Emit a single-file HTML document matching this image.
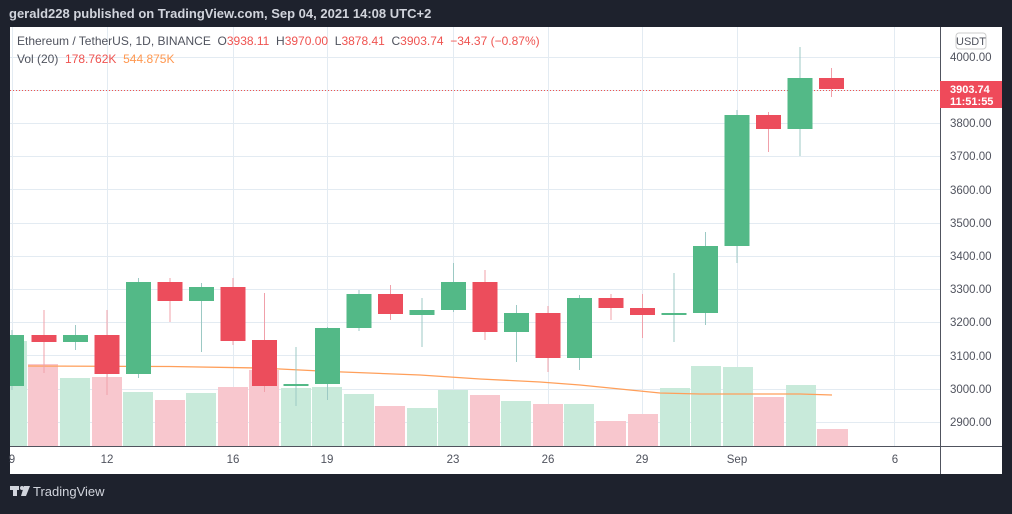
<!DOCTYPE html>
<html><head><meta charset="utf-8"><style>
body{margin:0;width:1012px;height:509px;background:#1e222d;overflow:hidden;font-family:"Liberation Sans",sans-serif}
.pre{white-space:pre}
</style></head><body>
<svg width="1012" height="509" xmlns="http://www.w3.org/2000/svg" font-family="Liberation Sans, sans-serif">
<rect x="0" y="0" width="1012" height="509" fill="#1e222d"/>
<text x="9" y="18" fill="#d1d4dc" font-size="13" font-weight="bold">gerald228 published on TradingView.com, Sep 04, 2021 14:08 UTC+2</text>
<rect x="10" y="27" width="992" height="447" fill="#fff"/>
<g stroke="#e3ebf2" stroke-width="1">
<line x1="10" x2="940" y1="57.5" y2="57.5"/><line x1="10" x2="940" y1="90.5" y2="90.5"/><line x1="10" x2="940" y1="123.5" y2="123.5"/><line x1="10" x2="940" y1="156.5" y2="156.5"/><line x1="10" x2="940" y1="189.5" y2="189.5"/><line x1="10" x2="940" y1="223.5" y2="223.5"/><line x1="10" x2="940" y1="256.5" y2="256.5"/><line x1="10" x2="940" y1="289.5" y2="289.5"/><line x1="10" x2="940" y1="322.5" y2="322.5"/><line x1="10" x2="940" y1="355.5" y2="355.5"/><line x1="10" x2="940" y1="389.5" y2="389.5"/><line x1="10" x2="940" y1="422.5" y2="422.5"/>
<line y1="27" y2="446" x1="12.5" x2="12.5"/><line y1="27" y2="446" x1="107.5" x2="107.5"/><line y1="27" y2="446" x1="233.5" x2="233.5"/><line y1="27" y2="446" x1="327.5" x2="327.5"/><line y1="27" y2="446" x1="453.5" x2="453.5"/><line y1="27" y2="446" x1="548.5" x2="548.5"/><line y1="27" y2="446" x1="642.5" x2="642.5"/><line y1="27" y2="446" x1="737.5" x2="737.5"/><line y1="27" y2="446" x1="894.5" x2="894.5"/>
</g>
<g>
<rect x="10" y="341" width="17" height="105" fill="#c8eada"/>
<rect x="28" y="364" width="30" height="82" fill="#f8c7ce"/>
<rect x="60" y="378" width="30" height="68" fill="#c8eada"/>
<rect x="92" y="377" width="30" height="69" fill="#f8c7ce"/>
<rect x="123" y="392" width="30" height="54" fill="#c8eada"/>
<rect x="155" y="400" width="30" height="46" fill="#f8c7ce"/>
<rect x="186" y="393" width="30" height="53" fill="#c8eada"/>
<rect x="218" y="387" width="30" height="59" fill="#f8c7ce"/>
<rect x="249" y="370" width="30" height="76" fill="#f8c7ce"/>
<rect x="281" y="388" width="30" height="58" fill="#c8eada"/>
<rect x="312" y="387" width="30" height="59" fill="#c8eada"/>
<rect x="344" y="394" width="30" height="52" fill="#c8eada"/>
<rect x="375" y="406" width="30" height="40" fill="#f8c7ce"/>
<rect x="407" y="408" width="30" height="38" fill="#c8eada"/>
<rect x="438" y="390" width="30" height="56" fill="#c8eada"/>
<rect x="470" y="395" width="30" height="51" fill="#f8c7ce"/>
<rect x="501" y="401" width="30" height="45" fill="#c8eada"/>
<rect x="533" y="404" width="30" height="42" fill="#f8c7ce"/>
<rect x="564" y="404" width="30" height="42" fill="#c8eada"/>
<rect x="596" y="421" width="30" height="25" fill="#f8c7ce"/>
<rect x="628" y="414" width="30" height="32" fill="#f8c7ce"/>
<rect x="660" y="388" width="30" height="58" fill="#c8eada"/>
<rect x="691" y="366" width="30" height="80" fill="#c8eada"/>
<rect x="723" y="367" width="30" height="79" fill="#c8eada"/>
<rect x="754" y="397" width="30" height="49" fill="#f8c7ce"/>
<rect x="786" y="385" width="30" height="61" fill="#c8eada"/>
<rect x="817" y="429" width="31" height="17" fill="#f8c7ce"/>
</g>
<polyline fill="none" stroke="#ff9f5a" stroke-width="1.3" points="28,366 170,366.5 260,368 330,371.5 420,375 480,379 540,382 580,385 620,389 660,393 700,394 760,394 800,394 832,395"/>
<line x1="10" x2="940" y1="90.5" y2="90.5" stroke="#ef5350" stroke-dasharray="1,2"/>
<g stroke-width="1">
<g stroke="#9cc9c4" fill="#53b987">
<line x1="12" x2="12" y1="330" y2="390"/><rect x="10" y="335" width="14" height="51" stroke="none"/>
<line x1="75.5" x2="75.5" y1="325" y2="350"/><rect x="63" y="335" width="25" height="7" stroke="none"/>
<line x1="138.5" x2="138.5" y1="278" y2="378"/><rect x="126" y="282" width="25" height="92" stroke="none"/>
<line x1="201.5" x2="201.5" y1="283" y2="352"/><rect x="189" y="287" width="25" height="14" stroke="none"/>
<line x1="296" x2="296" y1="347" y2="406"/><rect x="283.5" y="384" width="25" height="2" stroke="none"/>
<line x1="327.5" x2="327.5" y1="327" y2="400"/><rect x="315" y="328" width="25" height="56" stroke="none"/>
<line x1="359" x2="359" y1="290" y2="331"/><rect x="346.5" y="294" width="25" height="34" stroke="none"/>
<line x1="422" x2="422" y1="298" y2="347"/><rect x="409.5" y="310" width="25" height="5" stroke="none"/>
<line x1="453.5" x2="453.5" y1="263" y2="312"/><rect x="441" y="282" width="25" height="28" stroke="none"/>
<line x1="516.5" x2="516.5" y1="305" y2="362"/><rect x="504" y="313" width="25" height="19" stroke="none"/>
<line x1="579.5" x2="579.5" y1="295" y2="370"/><rect x="567" y="298" width="25" height="60" stroke="none"/>
<line x1="674" x2="674" y1="273" y2="342"/><rect x="661.5" y="313" width="25" height="2" stroke="none"/>
<line x1="705.5" x2="705.5" y1="232" y2="325"/><rect x="693" y="246" width="25" height="67" stroke="none"/>
<line x1="737" x2="737" y1="110" y2="263"/><rect x="724.5" y="115" width="25" height="131" stroke="none"/>
<line x1="800" x2="800" y1="47" y2="156"/><rect x="787.5" y="78" width="25" height="51" stroke="none"/>
</g>
<g stroke="#f0a0aa" fill="#ec4d5c">
<line x1="44" x2="44" y1="310" y2="373"/><rect x="31.5" y="335" width="25" height="7" stroke="none"/>
<line x1="107" x2="107" y1="310" y2="395"/><rect x="94.5" y="335" width="25" height="39" stroke="none"/>
<line x1="170" x2="170" y1="278" y2="322"/><rect x="157.5" y="282" width="25" height="19" stroke="none"/>
<line x1="233" x2="233" y1="278" y2="345"/><rect x="220.5" y="287" width="25" height="54" stroke="none"/>
<line x1="264.5" x2="264.5" y1="293" y2="392"/><rect x="252" y="340" width="25" height="46" stroke="none"/>
<line x1="390.5" x2="390.5" y1="285" y2="320"/><rect x="378" y="294" width="25" height="20" stroke="none"/>
<line x1="485" x2="485" y1="270" y2="340"/><rect x="472.5" y="282" width="25" height="50" stroke="none"/>
<line x1="548" x2="548" y1="306" y2="372"/><rect x="535.5" y="313" width="25" height="45" stroke="none"/>
<line x1="611" x2="611" y1="294" y2="320"/><rect x="598.5" y="298" width="25" height="10" stroke="none"/>
<line x1="642.5" x2="642.5" y1="294" y2="338"/><rect x="630" y="308" width="25" height="7" stroke="none"/>
<line x1="768.5" x2="768.5" y1="112" y2="152"/><rect x="756" y="115" width="25" height="14" stroke="none"/>
<line x1="831.5" x2="831.5" y1="68" y2="97"/><rect x="819" y="78" width="25" height="11" stroke="none"/>
</g>
</g>
<line x1="940.5" x2="940.5" y1="27" y2="474" stroke="#50535e"/>
<line x1="10" x2="1002" y1="446.5" y2="446.5" stroke="#50535e"/>
<g font-size="11.5" fill="#50535e" text-anchor="middle">
<text x="12" y="463">9</text><text x="107" y="463">12</text><text x="233" y="463">16</text><text x="327" y="463">19</text><text x="453" y="463">23</text><text x="548" y="463">26</text><text x="642" y="463">29</text><text x="737" y="463">Sep</text><text x="895" y="463">6</text>
</g>
<rect x="956" y="33" width="30" height="16" rx="3" fill="#fff" stroke="#ccc"/>
<text x="971" y="45" font-size="11" fill="#50535e" text-anchor="middle">USDT</text>
<g font-size="11.5" fill="#50535e">
<text x="950" y="61">4000.00</text><text x="950" y="127">3800.00</text><text x="950" y="160">3700.00</text><text x="950" y="194">3600.00</text><text x="950" y="227">3500.00</text><text x="950" y="260">3400.00</text><text x="950" y="293">3300.00</text><text x="950" y="326">3200.00</text><text x="950" y="360">3100.00</text><text x="950" y="393">3000.00</text><text x="950" y="426">2900.00</text>
</g>
<rect x="940" y="81" width="62" height="27" fill="#ef4a5a"/>
<text x="950" y="93" font-size="11" font-weight="bold" fill="#fff">3903.74</text>
<text x="950" y="105" font-size="11" font-weight="bold" fill="#fff">11:51:55</text>
<g font-size="12">
<text class="pre" x="17" y="45" fill="#50535e">Ethereum / TetherUS, 1D, BINANCE  O<tspan fill="#ef5350">3938.11</tspan>  H<tspan fill="#ef5350">3970.00</tspan>  L<tspan fill="#ef5350">3878.41</tspan>  C<tspan fill="#ef5350">3903.74</tspan>  <tspan fill="#ef5350">−34.37 (−0.87%)</tspan></text>
<text class="pre" x="17" y="63" fill="#50535e">Vol (20)  <tspan fill="#ef5350">178.762K</tspan>  <tspan fill="#ff9850">544.875K</tspan></text>
</g>
<rect x="10" y="486" width="9" height="4" fill="#d1d4dc"/><rect x="13" y="486" width="4" height="10" fill="#d1d4dc"/>
<circle cx="22" cy="488" r="2" fill="#d1d4dc"/><polygon points="24,486 30,486 26,496 21,496" fill="#d1d4dc"/>
<text x="33" y="496" font-size="13" fill="#d1d4dc">TradingView</text>
</svg>
</body></html>
